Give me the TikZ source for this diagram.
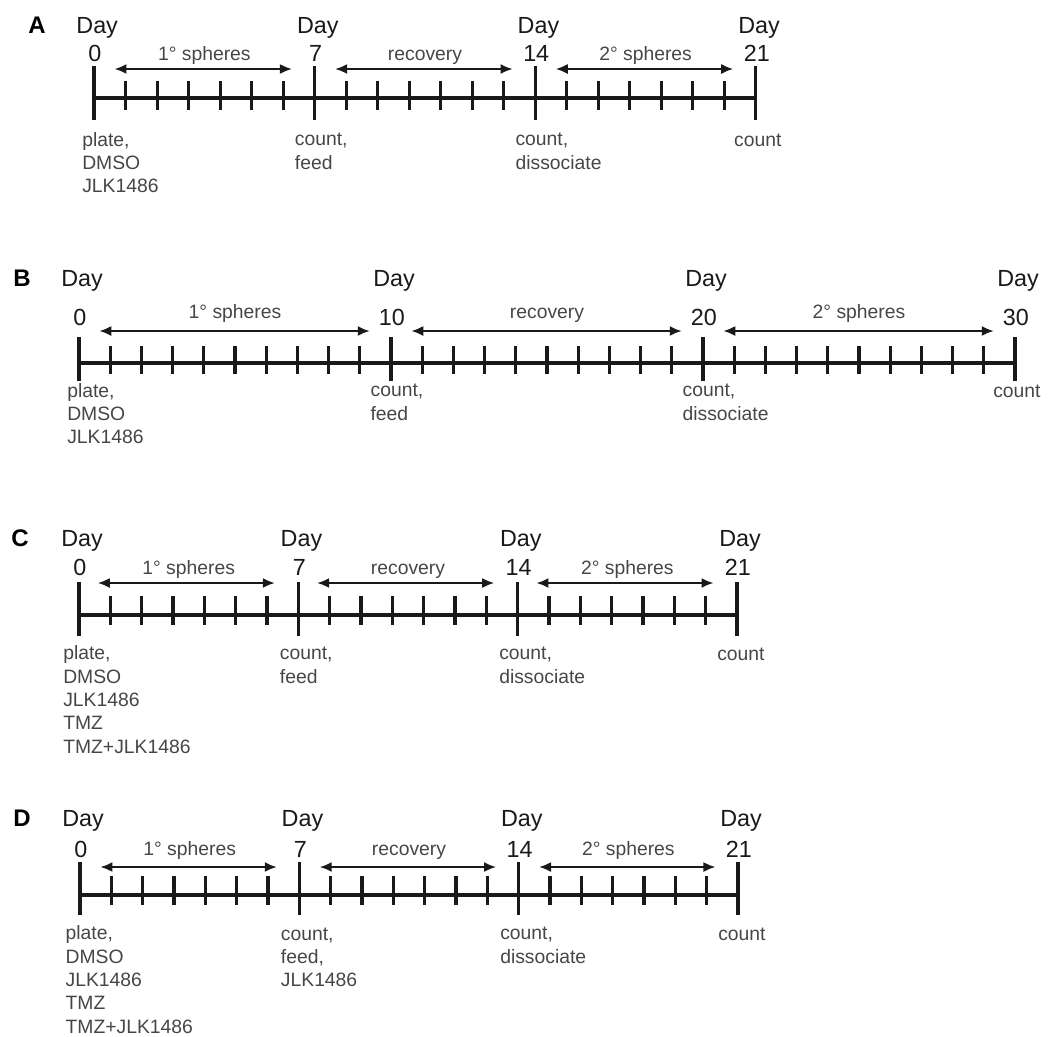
\documentclass[tikz,border=0pt]{standalone}
\usepackage{fontspec}
\setmainfont{Liberation Sans}
\usepackage{tikz}
\usetikzlibrary{arrows.meta}
\definecolor{TimelineInk}{RGB}{25,25,25}
\definecolor{TimelineNote}{RGB}{70,70,70}

\begin{document}
\begin{tikzpicture}[
x=0.75pt,
y=-0.75pt,
axisline/.style={
draw=TimelineInk,
line width=2.3pt
},
majortick/.style={
draw=TimelineInk,
line width=2.3pt
},
minortick/.style={
draw=TimelineInk,
line width=2.3pt
},
span/.style={
draw=TimelineInk,
line width=1.5pt,
{Latex[length=9pt,width=7.5pt]}-{Latex[length=9pt,width=7.5pt]}
},
daytext/.style={
text=TimelineInk,
font=\fontsize{17.5}{20}\selectfont,
anchor=base,
inner sep=0pt
},
phasetext/.style={
text=TimelineNote,
font=\fontsize{14.5}{17}\selectfont,
anchor=base,
inner sep=0pt
},
% base of a note = baseline of its last line
notetext/.style={
text=TimelineNote,
font=\fontsize{14.5}{17.5}\selectfont,
align=left,
anchor=base west,
inner sep=0pt
},
paneltext/.style={
text=black,
font=\fontsize{18}{20}\selectfont\bfseries,
anchor=base,
inner sep=0pt
}
]
\useasboundingbox (0,0) rectangle (1055,1036);

% panel A: 7 day steps
\node[paneltext] (labelA) at (37,33) {A};
\begin{scope}[shift={(94,98)},x=23.64pt]
\foreach \d in {0,7,14,21} {
\draw[majortick] (\d,-32) -- (\d,22);
\node[daytext] (dayA\d) at (\d+0.1,-65) {Day};
\node[daytext] (numA\d) at (\d+0.03,-37) {\d};
}
\foreach \p in {0,7,14}
\foreach \k in {1,...,6}
\draw[minortick] (\p+\k,-17) -- (\p+\k,12);
\coordinate (startA) at (0,0);
\coordinate (endA) at (21,0);
\draw[axisline] (startA) -- (endA);
\foreach \p/\q/\t in {0/7/1° spheres,7/14/recovery,14/21/2° spheres} {
\coordinate (leftA\p) at (\p+0.65,-29);
\coordinate (rightA\p) at (\q-0.72,-29);
\draw[span] (leftA\p) -- (rightA\p);
\node[phasetext] (phaseA\p) at ({(\p+\q)/2},-38) {\t};
}
\node[notetext,xshift=-9pt] (noteA0) at (0,94.7) {plate,\\DMSO\\JLK1486};
\node[notetext,xshift=-15pt] (noteA7) at (7,71.3) {count,\\feed};
\node[notetext,xshift=-15pt] (noteA14) at (14,71.3) {count,\\dissociate};
\node[notetext,xshift=-16.5pt] (noteA21) at (21,48) {count};
\end{scope}

% panel B: 10 day steps
\node[paneltext] (labelB) at (22,286) {B};
\begin{scope}[shift={(79,363)},x=23.4pt]
\foreach \d in {0,10,20,30} {
\draw[majortick] (\d,-26) -- (\d,18);
\node[daytext] (dayB\d) at (\d+0.1,-77) {Day};
\node[daytext] (numB\d) at (\d+0.03,-38) {\d};
}
\foreach \p in {0,10,20}
\foreach \k in {1,...,9}
\draw[minortick] (\p+\k,-17) -- (\p+\k,11);
\coordinate (startB) at (0,0);
\coordinate (endB) at (30,0);
\draw[axisline] (startB) -- (endB);
\foreach \p/\q/\t in {0/10/1° spheres,10/20/recovery,20/30/2° spheres} {
\coordinate (leftB\p) at (\p+0.65,-32);
\coordinate (rightB\p) at (\q-0.68,-32);
\draw[span] (leftB\p) -- (rightB\p);
\node[phasetext] (phaseB\p) at ({(\p+\q)/2},-45) {\t};
}
\node[notetext,xshift=-9pt] (noteB0) at (0,80.7) {plate,\\DMSO\\JLK1486};
\node[notetext,xshift=-15.5pt] (noteB10) at (10,57.3) {count,\\feed};
\node[notetext,xshift=-15.5pt] (noteB20) at (20,57.3) {count,\\dissociate};
\node[notetext,xshift=-16.5pt] (noteB30) at (30,34) {count};
\end{scope}

% panel C: 7 day steps, TMZ added
\node[paneltext] (labelC) at (20,546) {C};
\begin{scope}[shift={(79,615)},x=23.5pt]
\foreach \d in {0,7,14,21} {
\draw[majortick] (\d,-33) -- (\d,21);
\node[daytext] (dayC\d) at (\d+0.1,-69) {Day};
\node[daytext] (numC\d) at (\d+0.03,-40) {\d};
}
\foreach \p in {0,7,14}
\foreach \k in {1,...,6}
\draw[minortick] (\p+\k,-19) -- (\p+\k,10);
\coordinate (startC) at (0,0);
\coordinate (endC) at (21,0);
\draw[axisline] (startC) -- (endC);
\foreach \p/\q/\t in {0/7/1° spheres,7/14/recovery,14/21/2° spheres} {
\coordinate (leftC\p) at (\p+0.6,-32);
\coordinate (rightC\p) at (\q-0.75,-32);
\draw[span] (leftC\p) -- (rightC\p);
\node[phasetext] (phaseC\p) at ({(\p+\q)/2},-41) {\t};
}
\node[notetext,xshift=-12pt] (noteC0) at (0,138.3) {plate,\\DMSO\\JLK1486\\TMZ\\TMZ+JLK1486};
\node[notetext,xshift=-14pt] (noteC7) at (7,68.3) {count,\\feed};
\node[notetext,xshift=-14pt] (noteC14) at (14,68.3) {count,\\dissociate};
\node[notetext,xshift=-15pt] (noteC21) at (21,45) {count};
\end{scope}

% panel D: 7 day steps, JLK1486 again at day 7
\node[paneltext] (labelD) at (22,826) {D};
\begin{scope}[shift={(80,895)},x=23.5pt]
\foreach \d in {0,7,14,21} {
\draw[majortick] (\d,-33) -- (\d,20);
\node[daytext] (dayD\d) at (\d+0.1,-69) {Day};
\node[daytext] (numD\d) at (\d+0.03,-38) {\d};
}
\foreach \p in {0,7,14}
\foreach \k in {1,...,6}
\draw[minortick] (\p+\k,-19) -- (\p+\k,10);
\coordinate (startD) at (0,0);
\coordinate (endD) at (21,0);
\draw[axisline] (startD) -- (endD);
\foreach \p/\q/\t in {0/7/1° spheres,7/14/recovery,14/21/2° spheres} {
\coordinate (leftD\p) at (\p+0.65,-28);
\coordinate (rightD\p) at (\q-0.72,-28);
\draw[span] (leftD\p) -- (rightD\p);
\node[phasetext] (phaseD\p) at ({(\p+\q)/2},-40) {\t};
}
\node[notetext,xshift=-11pt] (noteD0) at (0,138.3) {plate,\\DMSO\\JLK1486\\TMZ\\TMZ+JLK1486};
\node[notetext,xshift=-14pt] (noteD7) at (7,91.7) {count,\\feed,\\JLK1486};
\node[notetext,xshift=-14pt] (noteD14) at (14,68.3) {count,\\dissociate};
\node[notetext,xshift=-15pt] (noteD21) at (21,45) {count};
\end{scope}
\end{tikzpicture}
\end{document}
